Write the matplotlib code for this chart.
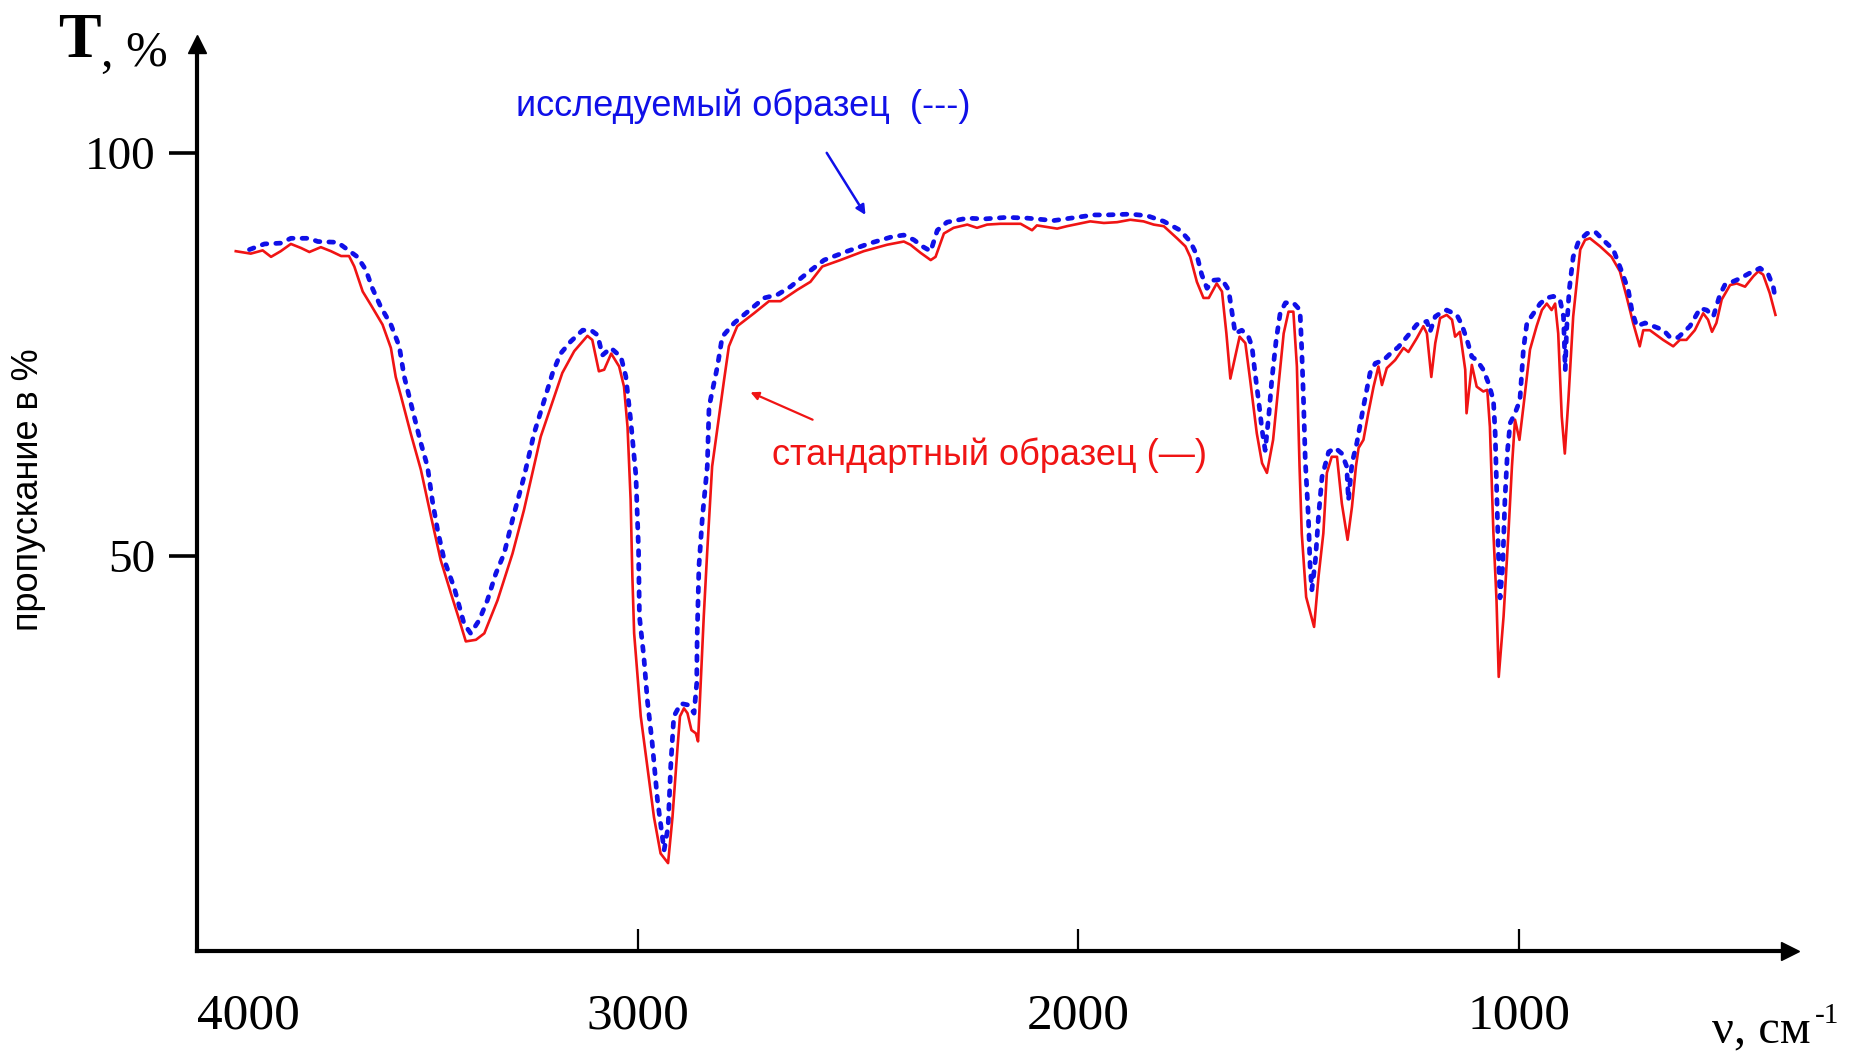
import numpy as np
import matplotlib.pyplot as plt

# standard sample (red, solid): wavenumber, transmittance
std_wn = [3912, 3878, 3851, 3832, 3810, 3787, 3764, 3745, 3719, 3696, 3673, 3655,
          3643, 3624, 3605, 3579, 3560, 3549, 3537, 3515, 3492, 3469, 3447, 3424,
          3405, 3390, 3367, 3348, 3318, 3284, 3258, 3220, 3197, 3171, 3144, 3114,
          3103, 3088, 3076, 3060, 3042, 3031, 3023, 3016, 3012, 3008, 2993, 2978,
          2963, 2948, 2931, 2921, 2910, 2904, 2895, 2887, 2878, 2868, 2863, 2857,
          2850, 2842, 2831, 2804, 2793, 2774, 2736, 2702, 2676, 2638, 2608, 2581,
          2540, 2487, 2434, 2396, 2381, 2358, 2335, 2324, 2305, 2283, 2252, 2230,
          2207, 2177, 2131, 2105, 2094, 2048, 2026, 1973, 1942, 1912, 1882, 1852,
          1829, 1806, 1776, 1757, 1746, 1731, 1716, 1704, 1686, 1674, 1664, 1655,
          1644, 1634, 1621, 1610, 1595, 1583, 1572, 1558, 1546, 1534, 1523, 1512,
          1504, 1498, 1493, 1483, 1465, 1455, 1444, 1436, 1425, 1413, 1402, 1389,
          1379, 1370, 1364, 1353, 1342, 1330, 1319, 1311, 1300, 1281, 1262, 1251,
          1232, 1217, 1209, 1199, 1190, 1179, 1164, 1152, 1145, 1134, 1122, 1119,
          1107, 1096, 1081, 1072, 1066, 1058, 1051, 1046, 1035, 1024, 1016, 1009,
          999, 990, 975, 960, 948, 937, 926, 918, 911, 903, 896, 888, 877, 861,
          850, 839, 816, 790, 771, 756, 741, 726, 718, 703, 688, 673, 650, 635,
          620, 601, 582, 571, 562, 552, 540, 521, 506, 487, 468, 457, 446, 431, 418]
std_t = [87.8, 87.5, 87.9, 87.1, 87.8, 88.7, 88.2, 87.7, 88.3, 87.8, 87.2, 87.2,
         85.9, 82.8, 81.1, 78.7, 75.8, 72.2, 69.8, 65.2, 60.7, 54.9, 49.5, 45.4,
         42.1, 39.4, 39.6, 40.4, 44.5, 50.3, 55.7, 64.8, 68.5, 72.7, 75.4, 77.3,
         76.8, 72.9, 73.1, 75.1, 73.5, 71.0, 66.0, 57.0, 47.4, 40.4, 30.1, 23.9,
         17.6, 13.1, 11.9, 17.6, 25.9, 30.1, 31.1, 30.5, 28.4, 28.0, 27.0, 34.2,
         42.5, 50.7, 61.1, 71.8, 76.0, 78.5, 80.1, 81.6, 81.6, 83.0, 84.0, 85.9,
         86.7, 87.8, 88.6, 89.0, 88.6, 87.6, 86.7, 87.1, 90.0, 90.7, 91.1, 90.7,
         91.1, 91.2, 91.2, 90.4, 91.0, 90.6, 90.9, 91.5, 91.3, 91.4, 91.7, 91.5,
         91.1, 90.9, 89.4, 88.4, 87.1, 84.0, 82.0, 82.0, 83.8, 82.8, 77.6, 72.0,
         74.7, 77.2, 76.4, 71.8, 65.2, 61.5, 60.3, 64.4, 71.0, 77.6, 80.3, 80.3,
         73.5, 61.1, 52.8, 44.9, 41.2, 47.4, 52.8, 60.3, 62.3, 62.3, 56.5, 52.0,
         56.1, 61.1, 63.4, 64.4, 67.7, 71.0, 73.5, 71.2, 73.3, 74.3, 75.8, 75.3,
         77.0, 78.5, 77.6, 72.2, 76.4, 79.5, 79.9, 79.3, 77.2, 77.8, 73.1, 67.7,
         73.7, 71.0, 70.4, 70.6, 66.0, 52.8, 44.5, 35.0, 42.5, 52.8, 61.1, 66.9,
         64.4, 68.5, 75.6, 78.5, 80.5, 81.3, 80.5, 81.3, 77.6, 67.3, 62.7, 69.3,
         79.7, 88.0, 89.2, 89.4, 88.4, 87.1, 85.3, 82.2, 78.9, 76.0, 78.0, 78.0,
         77.4, 76.8, 76.0, 76.8, 76.8, 78.0, 80.1, 79.3, 77.8, 78.9, 81.8, 83.6,
         83.8, 83.4, 84.7, 85.3, 84.9, 82.6, 79.9]

# investigated sample (blue, dotted)
inv_wn = [3881, 3847, 3810, 3787, 3745, 3726, 3681, 3636, 3617, 3602, 3583, 3560,
          3541, 3530, 3515, 3492, 3477, 3466, 3454, 3439, 3416, 3394, 3379, 3360,
          3341, 3322, 3303, 3284, 3258, 3235, 3212, 3193, 3175, 3152, 3125, 3106,
          3091, 3080, 3061, 3038, 3027, 3016, 3004, 3002, 2998, 2996, 2986, 2978,
          2967, 2955, 2940, 2931, 2925, 2918, 2902, 2884, 2872, 2866, 2865, 2861,
          2853, 2842, 2838, 2819, 2808, 2781, 2759, 2713, 2683, 2653, 2615, 2577,
          2524, 2472, 2422, 2396, 2373, 2354, 2335, 2320, 2298, 2252, 2214, 2162,
          2116, 2056, 2003, 1965, 1935, 1882, 1844, 1806, 1769, 1746, 1731, 1720,
          1708, 1693, 1674, 1659, 1651, 1644, 1629, 1614, 1606, 1599, 1591, 1583,
          1576, 1568, 1561, 1551, 1542, 1530, 1512, 1497, 1493, 1489, 1485, 1478,
          1474, 1470, 1462, 1455, 1447, 1432, 1417, 1402, 1391, 1387, 1379, 1368,
          1353, 1338, 1326, 1307, 1292, 1274, 1251, 1232, 1209, 1202, 1190, 1179,
          1164, 1141, 1130, 1118, 1107, 1096, 1081, 1069, 1058, 1054, 1050, 1047,
          1043, 1037, 1032, 1026, 1020, 1009, 998, 990, 982, 967, 952, 937, 922,
          907, 899, 895, 892, 886, 877, 865, 846, 827, 809, 786, 767, 752, 744,
          733, 714, 695, 672, 657, 639, 612, 589, 574, 559, 544, 533, 499, 476,
          453, 434, 423, 418]
inv_t = [88.0, 88.7, 88.8, 89.4, 89.4, 89.0, 88.9, 87.1, 85.5, 83.2, 80.9, 78.7,
         76.0, 72.3, 69.0, 64.0, 61.1, 56.9, 53.2, 49.5, 46.0, 41.6, 40.4, 42.0,
         44.5, 47.8, 50.3, 54.5, 59.8, 65.2, 69.3, 72.7, 75.1, 76.6, 78.0, 78.0,
         77.4, 74.9, 75.8, 74.7, 72.3, 66.9, 60.0, 57.0, 50.7, 42.5, 37.5, 32.1,
         26.8, 19.7, 13.5, 16.4, 23.9, 30.1, 31.7, 31.5, 30.5, 34.2, 40.0, 48.7,
         54.9, 61.1, 68.5, 73.5, 77.2, 78.9, 79.9, 82.0, 82.4, 83.4, 85.1, 86.7,
         87.8, 88.8, 89.6, 89.8, 89.2, 88.4, 87.8, 90.4, 91.4, 91.9, 91.8, 92.0,
         91.9, 91.6, 92.0, 92.3, 92.3, 92.4, 92.2, 91.5, 90.4, 89.0, 87.3, 84.9,
         83.2, 84.2, 84.3, 83.0, 80.1, 77.6, 78.0, 77.2, 76.0, 72.7, 69.3, 65.6,
         63.1, 67.3, 71.8, 76.8, 80.1, 81.4, 81.4, 80.5, 75.6, 69.3, 61.9, 54.9,
         48.7, 45.8, 49.5, 54.9, 59.8, 62.9, 63.4, 62.7, 61.1, 56.9, 61.5, 64.0,
         68.5, 72.7, 73.9, 74.3, 75.1, 75.9, 77.4, 78.7, 79.1, 77.8, 79.7, 80.1,
         80.5, 79.9, 78.7, 76.8, 74.7, 74.3, 73.1, 71.4, 69.3, 65.2, 56.9, 50.7,
         44.8, 48.7, 56.9, 63.1, 66.5, 67.7, 69.3, 75.6, 78.9, 80.1, 81.3, 82.0, 82.2,
         81.8, 79.7, 73.1, 78.0, 83.0, 87.1, 89.0, 90.0, 90.2, 89.2, 88.0, 85.3, 83.0, 80.5,
         78.5, 78.9, 78.5, 78.0, 77.1, 77.1, 78.5, 80.7, 80.5, 79.7, 82.4, 83.6, 84.4, 85.1,
         85.7, 84.9, 83.4, 81.8]

x_ticks = [4000, 3000, 2000, 1000]
y_ticks = [100, 50]

RED = '#f01414'
BLUE = '#1010e8'
SERIF = 'Liberation Serif'
SANS = 'Liberation Sans'

W, H = 1851, 1058
fig = plt.figure(figsize=(W / 100, H / 100), dpi=100)
ax = fig.add_axes([197 / W, 1 - 951 / H, (1790 - 197) / W, (951 - 44) / H])

ax.plot(std_wn, std_t, color=RED, lw=1.9, zorder=2)
ax.plot(inv_wn, inv_t, color=BLUE, lw=3.4, zorder=3,
        linestyle=(0, (1.0, 1.9)), dash_capstyle='round')

ax.set_xlim(4000, 385)
ax.set_ylim(1, 113.5)

for side in ['top', 'right']:
    ax.spines[side].set_visible(False)
for side in ['left', 'bottom']:
    ax.spines[side].set_linewidth(3)

# axis arrows
ax.plot(1, 0, '>k', ms=13, transform=ax.transAxes, clip_on=False)
ax.plot(0, 1, '^k', ms=13, transform=ax.transAxes, clip_on=False)

ax.set_xticks(x_ticks)
ax.set_xticklabels([str(v) for v in x_ticks], family=SERIF, fontsize=37)
ax.tick_params(axis='x', direction='in', length=16, width=1.6, pad=30)
ax.get_xticklabels()[0].set_horizontalalignment('left')

ax.set_yticks(y_ticks)
ax.set_yticklabels([str(v) for v in y_ticks], family=SERIF, fontsize=34)
ax.tick_params(axis='y', direction='out', length=20, width=2.6, pad=10)

# annotations
ax.text(2760, 105.8, 'исследуемый образец  (---)', color=BLUE, family=SANS,
        fontsize=26, ha='center', va='center')
ax.annotate('', xy=(2483, 92.3), xytext=(2571, 100.0),
            arrowprops=dict(arrowstyle='-|>', color=BLUE, lw=1.8,
                            mutation_scale=14, shrinkA=0, shrinkB=0))
ax.text(2202, 62.5, 'стандартный образец (—)', color=RED, family=SANS,
        fontsize=26, ha='center', va='center')
ax.annotate('', xy=(2744, 70.3), xytext=(2603, 66.9),
            arrowprops=dict(arrowstyle='-|>', color=RED, lw=1.6,
                            mutation_scale=12, shrinkA=0, shrinkB=0))

# axis titles
fig.text(58 / W, 1 - 57 / H, 'T', family=SERIF, fontweight='bold', fontsize=46,
         va='baseline')
fig.text(101 / W, 1 - 66 / H, ', %', family=SERIF, fontsize=36, va='baseline')
fig.text(29 / W, 1 - 490 / H, 'пропускание в %', family=SANS, fontsize=26,
         rotation=90, ha='center', va='center')
fig.text(1712 / W, 1 - 1043 / H, 'ν, см', family=SERIF, fontsize=35,
         va='baseline')
fig.text(1815 / W, 1 - 1023 / H, '-1', family=SERIF, fontsize=21,
         va='baseline')

fig.savefig('out.png', dpi=100)
